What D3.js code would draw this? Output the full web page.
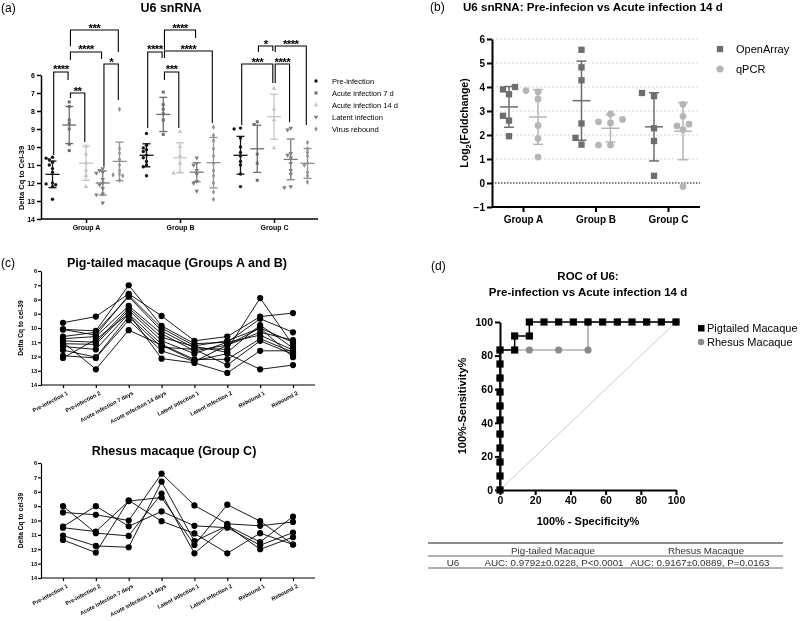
<!DOCTYPE html>
<html><head><meta charset="utf-8">
<script src="https://cdn.jsdelivr.net/npm/d3@7"></script>
<style>
body{margin:0;background:#fff;}
svg{filter:grayscale(100%);}
text{font-family:"Liberation Sans",Arial,Helvetica,sans-serif;}
</style></head><body>
<svg id="c" width="800" height="621" xmlns="http://www.w3.org/2000/svg"></svg>
<script>
// ---------------- DATA ----------------
// Panel (a)
const groupNames = ["Group A","Group B","Group C"];
const stageNames = ["Pre-infection","Acute infection 7 d","Acute infection 14 d","Latent infection","Virus rebound"];
const cqGroupA = [
  [10.57,10.62,10.7,10.85,11.0,11.2,11.4,12.0,12.05,12.1,12.2,12.9],
  [7.5,7.75,8.5,8.7,9.0,9.85,10.2],
  [9.95,10.4,10.9,11.3,11.6,12.2],
  [11.2,11.3,11.4,11.45,11.8,12.0,12.1,12.3,12.6,12.65,13.1],
  [7.9,10.1,10.35,10.7,11.0,11.3,11.5,11.55,11.6,11.85]
];
const cqGroupB = [
  [9.25,9.9,10.05,10.15,10.25,10.45,10.6,10.8,11.0,11.1,11.6],
  [6.95,7.65,7.9,8.15,8.5,9.3],
  [9.15,10.0,10.5,10.9,11.4,11.45],
  [10.6,10.9,11.0,11.3,11.5,11.9,12.0,12.45],
  [8.9,9.35,9.65,10.1,10.5,10.9,11.3,11.6,12.0,12.5,12.9]
];
const cqGroupC = [
  [8.95,9.0,9.5,10.0,10.3,10.5,10.8,11.0,11.5,12.2],
  [8.6,8.75,10.4,10.9,11.85],
  [6.75,7.9,8.5,10.05],
  [8.95,9.05,10.35,10.45,10.6,10.9,11.3,11.5,12.2,12.25],
  [9.75,10.1,10.3,10.5,10.9,11.0,11.4,11.6,11.95]
];
const cqMeans = [[11.52,8.78,10.9,12.0,10.8],[10.46,8.19,10.6,11.4,10.87],[10.46,10.1,8.32,10.69,10.91]];
const cqSD    = [[0.74,1.03,0.95,0.67,1.07],[0.64,0.95,0.83,0.53,1.4],[1.05,1.31,1.25,1.13,0.83]];
// significance brackets: group, stage from, stage to, label, bar level, left leg end, right leg end (Delta Cq units)
const sigBrackets = [
  [0,0,1,"****",5.83,10.44,6.28],
  [0,1,2,"**",7.0,7.28,9.72],
  [0,1,3,"****",4.72,5.17,5.11],
  [0,1,4,"***",3.5,4.4,4.72],
  [0,3,4,"*",5.39,11.1,7.39],
  [1,0,1,"****",4.72,8.94,5.06],
  [1,1,3,"****",3.5,4.61,3.94],
  [1,1,4,"****",4.67,5.06,8.67],
  [1,1,2,"***",5.83,6.28,8.94],
  [2,1,2,"*",4.39,4.72,4.67],
  [2,2,4,"****",4.39,4.72,8.78],
  [2,0,2,"***",5.39,8.78,6.44],
  [2,2,3,"****",5.39,6.44,8.61]
];

// Panel (b)
const foldSeries = ["OpenArray","qPCR"];
const openArrayFC = [[3.9,4.0,3.7,2.8,2.6,1.95],[5.55,4.82,4.28,2.48,1.88,1.6],[3.75,3.62,2.28,1.75,0.3]];
const qpcrFC      = [[3.8,3.85,3.5,2.4,1.85,1.08],[2.88,2.65,2.55,2.5,1.58,1.58],[3.28,2.78,2.45,2.38,2.22,-0.15]];
const openArrayMean = [3.17,3.43,2.34], openArraySD = [0.85,1.65,1.42];
const qpcrMean = [2.75,2.28,2.16], qpcrSD = [1.14,0.57,1.19];

// Panel (c)
const timepoints = ["Pre-infection 1","Pre-infection 2","Acute infection 7 days","Acute infection 14 days","Latent infection 1","Latent infection 2","Rebound 1","Rebound 2"];
const pigtailedLines = [
  [9.63,9.2,7.6,9.15,10.9,10.6,9.2,8.95],
  [10.1,10.2,7.0,9.85,11.1,11.0,9.35,10.3],
  [10.1,10.5,7.7,10.0,11.25,10.9,10.0,11.0],
  [10.6,10.3,7.8,10.2,11.4,11.5,7.9,11.2],
  [10.75,10.6,8.45,10.4,11.6,11.2,10.3,10.85],
  [10.9,11.0,8.6,10.65,11.3,11.7,9.8,11.4],
  [11.1,11.15,8.75,10.9,11.8,11.0,10.5,11.55],
  [11.3,11.5,9.0,11.15,12.2,12.2,10.75,11.7],
  [11.55,12.05,9.2,11.35,11.5,12.6,10.9,11.85],
  [11.95,12.1,9.45,11.6,12.35,11.2,10.0,12.05],
  [12.1,10.8,9.0,12.15,12.45,13.15,11.6,11.6],
  [11.0,12.9,10.15,11.2,12.3,11.8,12.9,12.6]
];
const rhesusLines = [
  [9.0,10.88,11.07,8.12,12.28,10.37,11.5,9.72],
  [9.44,9.6,10.0,6.74,8.95,10.23,10.37,10.1],
  [10.42,9.0,10.4,9.37,10.37,10.5,11.72,10.84],
  [10.5,10.77,8.65,8.4,11.7,8.9,10.05,11.67],
  [11.05,11.77,11.86,7.3,11.44,10.37,12.0,11.16],
  [11.35,12.23,8.6,10.05,10.9,12.28,10.88,11.67]
];

// Panel (d)
const rocSeries = ["Pigtailed Macaque","Rhesus Macaque"];
const rocPigSpec = [0,0,0,0,0,0,0,0,0,0,0,8.33,8.33,16.67,16.67,25,33.33,41.67,50,58.33,66.67,75,83.33,91.67,100];
const rocPigSens = [0,8.33,16.67,25,33.33,41.67,50,58.33,66.67,75,83.33,83.33,91.67,91.67,100,100,100,100,100,100,100,100,100,100,100];
const rocRheSpec = [0,0,0,0,0,0,16.67,33.33,50,50,66.67,83.33,100];
const rocRheSens = [0,16.67,33.33,50,66.67,83.33,83.33,83.33,83.33,100,100,100,100];
const aucHeader = ["Pig-tailed Macaque","Rhesus Macaque"];
const aucRow = ["U6","AUC: 0.9792±0.0228, P<0.0001","AUC: 0.9167±0.0889, P=0.0163"];

// ---------------- DRAWING ----------------
const svg = d3.select("#c");

function swarm(vals, yScale, cx, step, minDist){
  const placed = [];
  vals.map((v,i)=>({v,i})).sort((a,b)=>a.v-b.v).forEach(p=>{
    const y = yScale(p.v);
    for(let k=0;k<30;k++){
      const off = k===0?0:(k%2?-1:1)*Math.ceil(k/2)*step;
      const x = cx+off;
      if(placed.every(q=>Math.hypot(q.x-x,q.y-y)>=minDist)){placed.push({x,y,v:p.v});break;}
    }
  });
  return placed;
}
function styleAxis(g, w, fs, bold){
  g.select(".domain").attr("stroke","#000").attr("stroke-width",w);
  g.selectAll(".tick line").attr("stroke","#000").attr("stroke-width",w);
  g.selectAll(".tick text").attr("fill","#000").attr("font-size",fs).attr("font-weight",bold?"bold":"normal")
    .attr("font-family",'"Liberation Sans",Arial,sans-serif');
}
function label(x,y,txt,fs,weight,anchor){
  return svg.append("text").attr("x",x).attr("y",y).text(txt).attr("font-size",fs)
    .attr("font-weight",weight||"normal").attr("text-anchor",anchor||"start").attr("fill","#000");
}

// ===== Panel (a) =====
label(1,12,"(a)",12);
label(171,12,"U6 snRNA",12.5,"bold","middle");
const ay = d3.scaleLinear().domain([6,14]).range([75,219]);
const ax = d3.scalePoint().domain(groupNames).range([86,274]);
const aoff = d3.scaleLinear().domain([0,4]).range([-33.5,33.5]);
const stageColors = ["#151515","#6c6c6c","#c6c6c6","#7d7d7d","#929292"];
const stageSymbols = [d3.symbolCircle,d3.symbolSquare,d3.symbolTriangle,d3.symbolTriangle,d3.symbolDiamond];
const stageRot = [0,0,0,180,0];
const gYa = svg.append("g").attr("transform","translate(41,0)")
  .call(d3.axisLeft(ay).tickValues(d3.range(6,15)).tickSize(4).tickSizeOuter(0).tickFormat(d3.format("d")).tickPadding(2));
styleAxis(gYa,1.5,7,true);
svg.append("line").attr("x1",41).attr("x2",318).attr("y1",ay(14)).attr("y2",ay(14)).attr("stroke","#000").attr("stroke-width",1.5);
const gXa = svg.append("g").attr("transform",`translate(0,${ay(14)})`).call(d3.axisBottom(ax).tickSize(4).tickPadding(2));
gXa.select(".domain").remove();
styleAxis(gXa,1.5,7,true);
svg.append("text").attr("transform","translate(24,178) rotate(-90)").attr("text-anchor","middle")
  .attr("font-size",7.5).attr("font-weight","bold").text("Delta Cq to Cel-39");

const cqAll = [cqGroupA,cqGroupB,cqGroupC];
cqAll.forEach((grp,gi)=>{
  grp.forEach((vals,si)=>{
    const cx = ax(groupNames[gi])+aoff(si);
    const col = stageColors[si];
    const m = cqMeans[gi][si], sd = cqSD[gi][si];
    const eg = svg.append("g").attr("stroke",col).attr("stroke-width",1.3);
    eg.append("line").attr("x1",cx).attr("x2",cx).attr("y1",ay(m-sd)).attr("y2",ay(m+sd));
    eg.append("line").attr("x1",cx-4).attr("x2",cx+4).attr("y1",ay(m-sd)).attr("y2",ay(m-sd));
    eg.append("line").attr("x1",cx-4).attr("x2",cx+4).attr("y1",ay(m+sd)).attr("y2",ay(m+sd));
    eg.append("line").attr("x1",cx-7).attr("x2",cx+7).attr("y1",ay(m)).attr("y2",ay(m));
    const pts = swarm(vals,ay,cx,3.2,3.4);
    svg.append("g").selectAll("path").data(pts).join("path")
      .attr("d",d3.symbol().type(stageSymbols[si]).size(9))
      .attr("transform",d=>`translate(${d.x},${d.y}) rotate(${stageRot[si]})`)
      .attr("fill",col);
  });
});
// brackets
sigBrackets.forEach(b=>{
  const [gi,s1,s2,txt,lev,l1,l2] = b;
  const x1 = ax(groupNames[gi])+aoff(s1)+1.2, x2 = ax(groupNames[gi])+aoff(s2)-1.2;
  svg.append("path").attr("fill","none").attr("stroke","#000").attr("stroke-width",1.1)
    .attr("d",`M${x1},${ay(l1)}V${ay(lev)}H${x2}V${ay(l2)}`);
  svg.append("text").attr("x",(x1+x2)/2).attr("y",ay(lev)+1.5).attr("text-anchor","middle")
    .attr("font-size",11.5).attr("font-weight","bold").attr("letter-spacing",-0.6).text(txt);
});
// legend
stageNames.forEach((n,i)=>{
  const y = 81+12*i;
  svg.append("path").attr("d",d3.symbol().type(stageSymbols[i]).size(9)())
    .attr("transform",`translate(316,${y}) rotate(${stageRot[i]})`).attr("fill",stageColors[i]);
  label(332,y+2.6,n,7.5);
});

// ===== Panel (b) =====
label(430,11,"(b)",12);
label(463,10.5,"U6 snRNA: Pre-infecion vs Acute infection 14 d",11.6,"bold");
const by = d3.scaleLinear().domain([-1,6]).range([207,39]);
const bx = d3.scalePoint().domain(groupNames).range([523,668]);
const bgrid = svg.append("g");
d3.range(1,7).forEach(v=>bgrid.append("line").attr("x1",492).attr("x2",700).attr("y1",by(v)).attr("y2",by(v))
  .attr("stroke","#c8c8c8").attr("stroke-width",0.8).attr("stroke-dasharray","2,2"));
svg.append("line").attr("x1",492).attr("x2",700).attr("y1",by(0)).attr("y2",by(0))
  .attr("stroke","#000").attr("stroke-width",1).attr("stroke-dasharray","1.5,1.5");
const gYb = svg.append("g").attr("transform","translate(492,0)")
  .call(d3.axisLeft(by).tickValues(d3.range(-1,7)).tickSize(5).tickSizeOuter(0).tickFormat(d3.format("d")).tickPadding(2));
styleAxis(gYb,2,10,true);
svg.append("line").attr("x1",492).attr("x2",700).attr("y1",by(-1)).attr("y2",by(-1)).attr("stroke","#000").attr("stroke-width",2);
const gXb = svg.append("g").attr("transform",`translate(0,${by(-1)})`).call(d3.axisBottom(bx).tickSize(5).tickPadding(4));
gXb.select(".domain").remove();
styleAxis(gXb,2,10,true);
const ylb = svg.append("text").attr("transform","translate(468,123) rotate(-90)").attr("text-anchor","middle")
  .attr("font-size",10.5).attr("font-weight","bold");
ylb.append("tspan").text("Log");
ylb.append("tspan").attr("font-size",7.5).attr("dy",3).text("2");
ylb.append("tspan").attr("dy",-3).text("(Foldchange)");
const fcColors = ["#6e6e6e","#b5b5b5"];
[[openArrayFC,openArrayMean,openArraySD,-14],[qpcrFC,qpcrMean,qpcrSD,15]].forEach(([arr,means,sds,off],k)=>{
  arr.forEach((vals,gi)=>{
    const cx = bx(groupNames[gi])+off;
    const m = means[gi], sd = sds[gi];
    const eg = svg.append("g").attr("stroke",fcColors[k]).attr("stroke-width",1.5);
    eg.append("line").attr("x1",cx).attr("x2",cx).attr("y1",by(m-sd)).attr("y2",by(m+sd));
    eg.append("line").attr("x1",cx-5).attr("x2",cx+5).attr("y1",by(m-sd)).attr("y2",by(m-sd));
    eg.append("line").attr("x1",cx-5).attr("x2",cx+5).attr("y1",by(m+sd)).attr("y2",by(m+sd));
    eg.append("line").attr("x1",cx-9).attr("x2",cx+9).attr("y1",by(m)).attr("y2",by(m));
    const pts = swarm(vals,by,cx,6,7);
    svg.append("g").selectAll("path").data(pts).join("path")
      .attr("d",d3.symbol().type(k===0?d3.symbolSquare:d3.symbolCircle).size(k===0?40:36))
      .attr("transform",d=>`translate(${d.x},${d.y})`).attr("fill",fcColors[k]);
  });
});
foldSeries.forEach((n,i)=>{
  const y = 49+20*i;
  svg.append("path").attr("d",d3.symbol().type(i===0?d3.symbolSquare:d3.symbolCircle).size(40)())
    .attr("transform",`translate(720,${y})`).attr("fill",fcColors[i]);
  label(736,y+4,n,11);
});

// ===== Panel (c) =====
label(1,267,"(c)",12);
label(177,267,"Pig-tailed macaque (Groups A and B)",12.5,"bold","middle");
label(174,455,"Rhesus macaque (Group C)",12.5,"bold","middle");
const cx = d3.scalePoint().domain(timepoints).range([63,293]);
function linePanel(lines, y0, y1){
  const cy = d3.scaleLinear().domain([6,14]).range([y0,y1]);
  const gY = svg.append("g").attr("transform","translate(41,0)")
    .call(d3.axisLeft(cy).tickValues(d3.range(6,15)).tickSize(3).tickSizeOuter(0).tickFormat(d3.format("d")).tickPadding(1));
  styleAxis(gY,1.2,5.5,true);
  svg.append("line").attr("x1",41).attr("x2",315).attr("y1",y1).attr("y2",y1).attr("stroke","#000").attr("stroke-width",1.2);
  const gX = svg.append("g").attr("transform",`translate(0,${y1})`).call(d3.axisBottom(cx).tickSize(3).tickPadding(2));
  gX.select(".domain").remove();
  styleAxis(gX,1.2,5.6,true);
  gX.selectAll(".tick text").attr("text-anchor","end").attr("dy","0.5em").attr("dx","0.2em")
    .attr("transform","translate(0,3) rotate(-28)");
  svg.append("text").attr("transform",`translate(23,${(y0+y1)/2}) rotate(-90)`).attr("text-anchor","middle")
    .attr("font-size",6.6).attr("font-weight","bold").text("Delta Cq to cel-39");
  const ln = d3.line().x((d,i)=>cx(timepoints[i])).y(d=>cy(d));
  svg.append("g").selectAll("path").data(lines).join("path").attr("d",ln)
    .attr("fill","none").attr("stroke","#000").attr("stroke-width",0.9);
  svg.append("g").selectAll("circle").data(lines.flatMap(l=>l.map((v,i)=>({v,i})))).join("circle")
    .attr("cx",d=>cx(timepoints[d.i])).attr("cy",d=>cy(d.v)).attr("r",3.1).attr("fill","#000");
}
linePanel(pigtailedLines,271,385);
linePanel(rhesusLines,463,578);

// ===== Panel (d) =====
label(431,270,"(d)",12);
label(588,280,"ROC of U6:",11.5,"bold","middle");
label(588,296,"Pre-infection vs Acute infection 14 d",11.5,"bold","middle");
const dx = d3.scaleLinear().domain([0,100]).range([500,676]);
const dy = d3.scaleLinear().domain([0,100]).range([490,322]);
svg.append("line").attr("x1",dx(0)).attr("y1",dy(0)).attr("x2",dx(100)).attr("y2",dy(100))
  .attr("stroke","#c4c4c4").attr("stroke-width",0.9);
const gYd = svg.append("g").attr("transform",`translate(${dx(0)},0)`)
  .call(d3.axisLeft(dy).tickValues(d3.range(0,101,20)).tickSize(5).tickSizeOuter(0).tickPadding(2));
styleAxis(gYd,2,10.5,true);
const gXd = svg.append("g").attr("transform",`translate(0,${dy(0)})`)
  .call(d3.axisBottom(dx).tickValues(d3.range(0,101,20)).tickSize(5).tickSizeOuter(0).tickPadding(2));
styleAxis(gXd,2,10.5,true);
label(588,525,"100% - Specificity%",11,"bold","middle");
svg.append("text").attr("transform","translate(466,406) rotate(-90)").attr("text-anchor","middle")
  .attr("font-size",11).attr("font-weight","bold").text("100%-Sensitivity%");
const rhe = rocRheSpec.map((s,i)=>[s,rocRheSens[i]]);
const pig = rocPigSpec.map((s,i)=>[s,rocPigSens[i]]);
const rl = d3.line().x(d=>dx(d[0])).y(d=>dy(d[1]));
svg.append("path").attr("d",rl(rhe)).attr("fill","none").attr("stroke","#8a8a8a").attr("stroke-width",1.2);
svg.append("g").selectAll("circle").data(rhe).join("circle").attr("cx",d=>dx(d[0])).attr("cy",d=>dy(d[1]))
  .attr("r",3.6).attr("fill","#8a8a8a");
svg.append("path").attr("d",rl(pig)).attr("fill","none").attr("stroke","#000").attr("stroke-width",1.5);
svg.append("g").selectAll("rect").data(pig).join("rect").attr("x",d=>dx(d[0])-3.6).attr("y",d=>dy(d[1])-3.6)
  .attr("width",7.2).attr("height",7.2).attr("fill","#000");
svg.append("rect").attr("x",698).attr("y",325).attr("width",6.5).attr("height",6.5).attr("fill","#000");
label(707,332,rocSeries[0],11);
svg.append("circle").attr("cx",701).attr("cy",342).attr("r",3.2).attr("fill","#8a8a8a");
label(707,346,rocSeries[1],11);

// table
[543,556,568].forEach((y,i)=>svg.append("line").attr("x1",428).attr("x2",783).attr("y1",y).attr("y2",y)
  .attr("stroke","#666").attr("stroke-width",i===0?1.3:1.1));
svg.append("g").attr("fill","#333").call(g=>{
  g.append("text").attr("x",553).attr("y",553.5).attr("text-anchor","middle").attr("font-size",9.8).text(aucHeader[0]);
  g.append("text").attr("x",706).attr("y",553.5).attr("text-anchor","middle").attr("font-size",9.8).text(aucHeader[1]);
  g.append("text").attr("x",453).attr("y",565.5).attr("text-anchor","middle").attr("font-size",9.8).text(aucRow[0]);
  g.append("text").attr("x",554).attr("y",565.5).attr("text-anchor","middle").attr("font-size",9.8).text(aucRow[1]);
  g.append("text").attr("x",700).attr("y",565.5).attr("text-anchor","middle").attr("font-size",9.8).text(aucRow[2]);
});
</script>
</body></html>
